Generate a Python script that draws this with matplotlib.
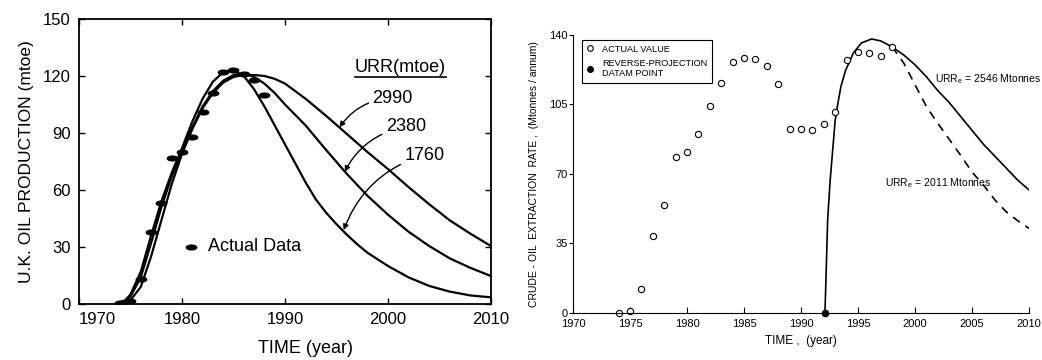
import matplotlib
matplotlib.use("Agg")
import matplotlib.pyplot as plt
from matplotlib.lines import Line2D
from matplotlib.markers import MarkerStyle
from matplotlib.transforms import Affine2D

FONT = ["Liberation Sans", "DejaVu Sans"]
plt.rcParams["font.family"] = FONT
plt.rcParams["mathtext.fontset"] = "custom"
plt.rcParams["mathtext.rm"] = "Liberation Sans"
plt.rcParams["mathtext.default"] = "regular"

# --- left panel: UK production, actual vs. model curves for three URRs ---
uk_years = [1974, 1975, 1976, 1977, 1978, 1979, 1980, 1981, 1982, 1983, 1984, 1985, 1986, 1987, 1988]
uk_prod = [0.5, 1.5, 13, 38, 53, 77, 80, 88, 101, 111, 122, 123, 121, 118, 110]

yrs_1760 = [1973.5, 1974.5, 1975, 1976, 1977, 1978, 1979, 1980, 1981, 1982, 1983, 1984, 1985,
            1986, 1987, 1988, 1989, 1990, 1991, 1992, 1993, 1994, 1995, 1996, 1997, 1998,
            2000, 2002, 2004, 2006, 2008, 2010]
fit_1760 = [0, 2, 5, 17, 36, 54, 69, 82, 96, 108, 117, 122, 123,
            120, 113, 104, 94, 84, 74, 64, 55, 48, 42, 36.5, 31.5, 27,
            20, 14, 9.5, 6.5, 4.5, 3.5]

yrs_fit = [1973.5, 1974.5, 1975, 1976, 1977, 1978, 1979, 1980, 1981, 1982, 1983, 1984, 1985,
           1986, 1987, 1988, 1989, 1990, 1992, 1994, 1996, 1998, 2000, 2002, 2004, 2006,
           2008, 2010]
fit_2380 = [0, 1.5, 4, 14, 32, 51, 67, 80, 93, 104, 112, 117.5, 120.5,
            121.4, 119.5, 116, 111, 105, 94, 81, 68.5, 57, 47, 38, 30.5, 24,
            19, 14.7]
fit_2990 = [0, 0.8, 2, 9, 25, 44, 63, 79, 92, 103, 111, 116.5, 119.5,
            120.5, 120.5, 120, 118.5, 116, 108, 99, 89.5, 80, 71, 61.5, 52.5, 44,
            37, 30.5]

# --- right panel: crude-oil extraction rate with reverse projection ---
act_years = list(range(1974, 1999))
act_rate = [0, 1.2, 12, 38.6, 54.5, 78.4, 81.1, 90, 104, 116, 126.2, 128.2, 128, 124.4,
            115.3, 92.5, 92.5, 92, 95, 101, 127.4, 131.2, 131, 129.4, 134.1]
datum_year, datum_rate = 1992.1, 0

proj_years = [1992.1, 1992.17, 1992.34, 1992.55, 1992.75, 1993.0, 1993.25, 1993.5, 1993.9,
              1994.6, 1995.3, 1996.2, 1997, 1998, 1999, 2000, 2001, 2002, 2003, 2004,
              2005, 2006, 2007, 2008, 2009, 2010]
proj_2546 = [0, 13, 47, 66, 80, 97, 106, 114, 122,
             131, 136, 138, 137, 134, 130, 125, 119, 112, 106, 99,
             92, 85, 79, 73, 67, 62]
low_years = [1998, 1999, 2000, 2001, 2002, 2003, 2004, 2005, 2006, 2007, 2008, 2009, 2010]
proj_2011 = [134, 126, 115, 104, 95.5, 87.5, 79.5, 71, 64.5, 57, 51, 46.5, 42.6]

fig = plt.figure(figsize=(10.42, 3.6), dpi=100)

ax1 = fig.add_axes([0.0758, 0.1556, 0.3954, 0.7917])
for yrs, vals in [(yrs_1760, fit_1760), (yrs_fit, fit_2380), (yrs_fit, fit_2990)]:
    ax1.plot(yrs, vals, color="black", lw=1.6, solid_capstyle="round")
ellipse = MarkerStyle("o", transform=Affine2D().scale(2.2, 1.0))
ax1.plot(uk_years, uk_prod, ls="none", marker=ellipse, ms=3.4, color="black")

ax1.set_xlim(1970, 2010)
ax1.set_ylim(0, 150)
ax1.set_xticks([1970, 1980, 1990, 2000, 2010])
ax1.set_yticks([0, 30, 60, 90, 120, 150])
ax1.tick_params(direction="in", length=4, width=1, top=True, right=True,
                labelsize=12, pad=6)
ax1.get_xticklabels()[0].set_horizontalalignment("left")
for sp in ax1.spines.values():
    sp.set_linewidth(1.3)
ax1.set_ylabel("U.K. OIL PRODUCTION (mtoe)", fontsize=12.5, labelpad=6)
ax1.set_xlabel("TIME (year)", fontsize=13)
ax1.xaxis.set_label_coords(0.55, -0.125)

urr_title = ax1.text(1996.8, 124.7, "URR(mtoe)", fontsize=13, va="center")
arrow = dict(arrowstyle="-|>", color="black", lw=1, mutation_scale=8,
             shrinkA=1, shrinkB=0, connectionstyle="arc3,rad=0.25")
for label, tx, ty, px, py in [("2990", 1998.5, 108.4, 1995.3, 93.0),
                              ("2380", 1999.8, 93.2, 1995.8, 69.6),
                              ("1760", 2001.6, 78.4, 1995.7, 38.9)]:
    ax1.annotate(label, xy=(px, py), xytext=(tx, ty), fontsize=13,
                 va="center", ha="left", arrowprops=arrow)
ax1.plot([1980.9], [30.2], ls="none", marker=ellipse, ms=3.4, color="black")
ax1.text(1982.5, 30, "Actual Data", fontsize=13, va="center")

# right panel
ax2 = fig.add_axes([0.5499, 0.1306, 0.4376, 0.7722])
ax2.plot(proj_years, proj_2546, color="black", lw=1.2)
ax2.plot(low_years, proj_2011, color="black", lw=1.2, ls=(0, (5, 4)))
ax2.plot(act_years, act_rate, ls="none", marker="o", ms=4.5, mfc="white",
         mec="black", mew=0.8, clip_on=False)
ax2.plot([datum_year], [datum_rate], ls="none", marker="o", ms=4.5, color="black",
         clip_on=False, zorder=5)

ax2.set_xlim(1970, 2010)
ax2.set_ylim(0, 140)
ax2.set_xticks(range(1970, 2011, 5))
ax2.set_yticks([0, 35, 70, 105, 140])
ax2.spines["top"].set_visible(False)
ax2.spines["right"].set_visible(False)
ax2.tick_params(axis="x", direction="in", length=4, width=0.8, labelsize=8, pad=4)
ax2.tick_params(axis="y", direction="out", length=3, width=0.8, labelsize=8, pad=1)
ax2.set_ylabel("CRUDE - OIL  EXTRACTION  RATE ,  (Mtonnes / annum)", fontsize=7.5, labelpad=7)
ax2.set_xlabel("TIME ,  (year)", fontsize=8.5, labelpad=5)

ax2.text(2001.8, 117.8, r"URR$_\mathrm{e}$ = 2546 Mtonnes", fontsize=7.5, va="center",
         clip_on=False)
ax2.text(1997.4, 65.5, r"URR$_\mathrm{e}$ = 2011 Mtonnes", fontsize=7.5, va="center")

handles = [Line2D([], [], ls="none", marker="o", ms=4, mfc="white", mec="black", mew=0.8),
           Line2D([], [], ls="none", marker="o", ms=4, color="black")]
leg = ax2.legend(handles, ["ACTUAL VALUE", "REVERSE-PROJECTION\nDATAM POINT"],
                 loc="upper left", bbox_to_anchor=(0.02, 0.982), borderaxespad=0,
                 fontsize=6.6, fancybox=False, framealpha=1, edgecolor="black",
                 handlelength=0.8, handletextpad=0.9, borderpad=0.5, labelspacing=0.55)
leg.get_frame().set_linewidth(0.8)

# underline the URR heading using its rendered extent
fig.canvas.draw()
bb = urr_title.get_window_extent()
fig.add_artist(Line2D([bb.x0, bb.x1], [bb.y0 - 1, bb.y0 - 1], color="black", lw=1.2,
                      transform=None))

fig.savefig("out.png", dpi=100)
